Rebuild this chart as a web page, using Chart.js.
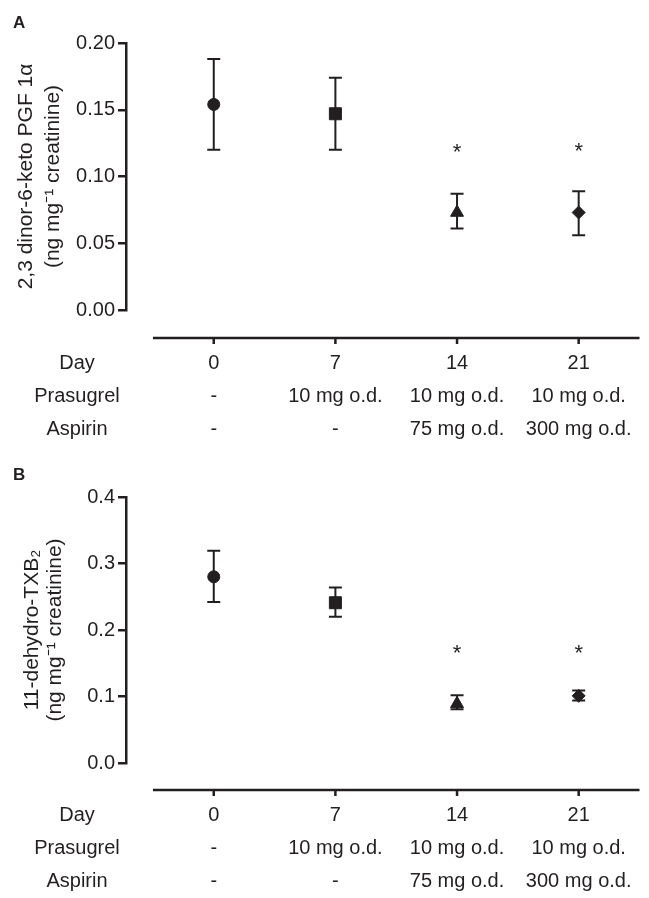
<!DOCTYPE html>
<html>
<head>
<meta charset="utf-8">
<script src="https://cdn.jsdelivr.net/npm/chart.js@4"></script>
<style>
  body { margin: 0; background: #fff; }
  .panel { position: absolute; left: 0; width: 649px; }
</style>
</head>
<body>
<div class="panel" style="top:0;height:450px"><canvas id="chart-a" width="649" height="450"></canvas></div>
<div class="panel" style="top:450px;height:448px"><canvas id="chart-b" width="649" height="448"></canvas></div>
<script>
// shared table under both panels
const days = [0, 7, 14, 21];
const dayLabels = ['0', '7', '14', '21'];
const prasugrel = ['-', '10 mg o.d.', '10 mg o.d.', '10 mg o.d.'];
const aspirin = ['-', '-', '75 mg o.d.', '300 mg o.d.'];
const rowHeaders = ['Day', 'Prasugrel', 'Aspirin'];
const markers = ['circle', 'rect', 'triangle', 'rectRot'];

// panel A: 2,3 dinor-6-keto PGF 1a
const pgfMean = [0.154, 0.147, 0.073, 0.073];
const pgfLow = [0.120, 0.120, 0.061, 0.056];
const pgfHigh = [0.188, 0.174, 0.087, 0.089];
const pgfStar = [null, null, 0.121, 0.122];
const pgfTicks = [0, 0.05, 0.10, 0.15, 0.20];

// panel B: 11-dehydro-TXB2
const txbMean = [0.280, 0.241, 0.089, 0.101];
const txbLow = [0.242, 0.220, 0.081, 0.094];
const txbHigh = [0.319, 0.264, 0.102, 0.109];
const txbStar = [null, null, 0.172, 0.171];
const txbTicks = [0, 0.1, 0.2, 0.3, 0.4];

const ink = '#231f20';
const FONT = "'Liberation Sans', Arial, Helvetica, sans-serif";
Chart.defaults.font.family = FONT;
Chart.defaults.color = ink;

const markerSize = { circle: 6, rect: 8.5, triangle: 7.5, rectRot: 6.5 };

function makePanel(id, p) {
  const rowLH = 33;

  const extras = {
    id: 'extras',
    beforeDatasetsDraw(chart) {
      const { ctx } = chart;
      const xs = chart.scales.x, ys = chart.scales.y;
      ctx.save();
      ctx.strokeStyle = ink;
      ctx.lineWidth = 2;
      days.forEach((d, i) => {
        const x = xs.getPixelForValue(d);
        const top = ys.getPixelForValue(p.high[i]);
        const bot = ys.getPixelForValue(p.low[i]);
        ctx.beginPath();
        ctx.moveTo(x, top); ctx.lineTo(x, bot);
        ctx.moveTo(x - 6.5, top); ctx.lineTo(x + 6.5, top);
        ctx.moveTo(x - 6.5, bot); ctx.lineTo(x + 6.5, bot);
        ctx.stroke();
      });
      ctx.restore();
    },
    afterDraw(chart) {
      const { ctx, chartArea } = chart;
      const xs = chart.scales.x, ys = chart.scales.y;
      ctx.save();
      ctx.strokeStyle = ink;
      ctx.fillStyle = ink;

      // detached x axis line with ticks
      const ay = chartArea.bottom + p.gap;
      ctx.lineWidth = 2.5;
      ctx.beginPath();
      ctx.moveTo(xs.getPixelForValue(-3.5), ay);
      ctx.lineTo(xs.getPixelForValue(24.5), ay);
      days.forEach(d => {
        const x = xs.getPixelForValue(d);
        ctx.moveTo(x, ay);
        ctx.lineTo(x, ay + 6);
      });
      ctx.stroke();

      // row headers of the table
      ctx.font = '20px ' + FONT;
      ctx.textAlign = 'center';
      ctx.textBaseline = 'middle';
      rowHeaders.forEach((h, i) => {
        ctx.fillText(h, 77, xs.top + p.pad + rowLH / 2 + i * rowLH);
      });

      // significance stars
      ctx.font = '22px ' + FONT;
      ctx.textBaseline = 'alphabetic';
      const m = ctx.measureText('*');
      const shift = (m.actualBoundingBoxAscent - m.actualBoundingBoxDescent) / 2;
      p.star.forEach((s, i) => {
        if (s == null) return;
        ctx.fillText('*', xs.getPixelForValue(days[i]), ys.getPixelForValue(s) + shift);
      });

      // panel letter
      ctx.font = 'bold 17px ' + FONT;
      ctx.textAlign = 'left';
      ctx.fillText(p.letter, 13, p.letterY);
      ctx.restore();
    }
  };

  return new Chart(document.getElementById(id), {
    type: 'scatter',
    data: {
      datasets: [{
        data: days.map((d, i) => ({ x: d, y: p.mean[i] })),
        pointStyle: markers,
        pointRadius: markers.map(s => markerSize[s]),
        pointHoverRadius: markers.map(s => markerSize[s]),
        backgroundColor: ink,
        borderColor: ink,
        borderWidth: 1
      }]
    },
    options: {
      responsive: false,
      animation: false,
      layout: { padding: { left: 0, right: 8, top: p.top, bottom: 0 } },
      plugins: { legend: { display: false }, tooltip: { enabled: false } },
      scales: {
        x: {
          type: 'linear',
          min: -5.05,
          max: 24.5,
          grid: { display: false, drawTicks: false, tickLength: 0 },
          border: { display: false },
          afterBuildTicks: s => { s.ticks = days.map(v => ({ value: v })); },
          afterFit: s => {
            s.height = p.height - p.bottom;
            s.paddingLeft = 0;
            s.paddingRight = 0;
          },
          ticks: {
            autoSkip: false,
            maxRotation: 0,
            minRotation: 0,
            padding: p.pad,
            color: ink,
            font: { size: 20, lineHeight: rowLH / 20 },
            callback: (v, i) => [dayLabels[i], prasugrel[i], aspirin[i]]
          }
        },
        y: {
          min: p.ticks[0],
          max: p.ticks[p.ticks.length - 1],
          afterBuildTicks: s => { s.ticks = p.ticks.map(v => ({ value: v })); },
          afterFit: s => { s.width = 126; },
          border: { display: true, width: 2.5, color: ink },
          grid: { drawOnChartArea: false, drawTicks: true, tickLength: 8, lineWidth: 2.5, color: ink },
          ticks: {
            padding: 3,
            color: ink,
            font: { size: 20 },
            callback: v => v.toFixed(p.decimals)
          },
          title: {
            display: true,
            text: p.title,
            color: ink,
            font: { size: 21, lineHeight: p.titleLH / 21 },
            padding: { top: p.titlePad, bottom: 0 }
          }
        }
      }
    },
    plugins: [extras]
  });
}

makePanel('chart-a', {
  mean: pgfMean, low: pgfLow, high: pgfHigh, star: pgfStar, ticks: pgfTicks,
  decimals: 2, letter: 'A', letterY: 28,
  title: ['2,3 dinor-6-keto PGF 1\u03b1', '(ng mg\u207b\u00b9 creatinine)'],
  titleLH: 27.5, titlePad: 12.25,
  height: 450, top: 43, bottom: 310, gap: 28, pad: 37
});

makePanel('chart-b', {
  mean: txbMean, low: txbLow, high: txbHigh, star: txbStar, ticks: txbTicks,
  decimals: 1, letter: 'B', letterY: 30,
  title: ['11-dehydro-TXB\u2082', '(ng mg\u207b\u00b9 creatinine)'],
  titleLH: 23, titlePad: 20.5,
  height: 448, top: 47, bottom: 313, gap: 27, pad: 36
});
</script>
</body>
</html>
